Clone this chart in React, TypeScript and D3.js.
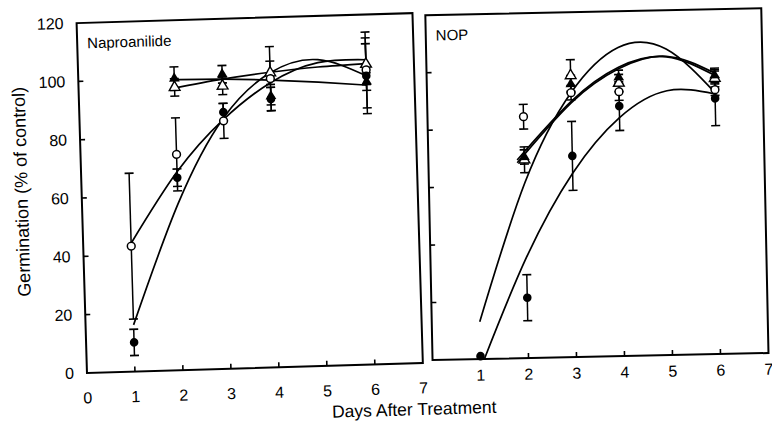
import React from 'react';
import * as d3 from 'd3';

const W = 772, H = 423;
const FONT = '"Liberation Sans", Arial, Helvetica, sans-serif';

const xTickDays = [1, 2, 3, 4, 5, 6];
const yTickVals = [20, 40, 60, 80, 100];
const leftXLabels = [0, 1, 2, 3, 4, 5, 6, 7];
const rightXLabels = [1, 2, 3, 4, 5, 6, 7];
const yLabels = [0, 20, 40, 60, 80, 100, 120];

// ---- Naproanilide (left panel) ----
const napCircleDays = [1, 2, 3, 4, 6];
const napFilledCircle = [10, 66, 88, 92, 99];
const napFilledCircleErr = [4.5, 3, 3, 4, 13];
const napOpenCircle = [43, 74, 85, 99, 101];
const napOpenCircleErr = [25, 12.5, 6, 11, 13];
const napTriDays = [2, 3, 4, 6];
const napFilledTri = [100, 101, 93, 97];
const napFilledTriErr = [4, 3, 3, 3];
const napOpenTri = [97, 97, 101, 103];
const napOpenTriErr = [3, 3, 4, 7];

const napFitDays = [1, 2, 3, 4, 5, 6];
const napFilledCircleFit = [16, 57, 86, 101, 105, 99];
const napOpenCircleFit = [44, 68, 85.5, 97.6, 104, 104.5];
const napTriFitDays = [1.95, 3, 4, 5, 6];
const napFilledTriFit = [99.6, 99.3, 98.5, 97.3, 95.8];
const napOpenTriFit = [96.6, 99.3, 101.2, 102.5, 103.2];

// ---- NOP (right panel) ----
const nopFilledCircleDays = [1, 2, 3, 4, 6];
const nopFilledCircle = [1, 21, 70, 87, 89];
const nopFilledCircleErr = [0, 8, 12, 8.5, 9.5];
const nopDays = [2, 3, 4, 6];
const nopOpenCircle = [84, 92, 92, 92];
const nopOpenCircleErr = [4.3, 2.5, 3, 2];
const nopFilledTri = [70, 95, 97, 97];
const nopFilledTriErr = [2.5, 3, 2.5, 2.5];
const nopOpenTri = [69, 98, 95, 96];
const nopOpenTriErr = [4.5, 5.5, 3, 3];

const nopFilledCircleFitDays = [1.08, 2, 3, 4, 5, 6];
const nopFilledCircleFit = [0, 35, 64, 83, 92, 90.5];
const nopOpenCircleFitDays = [1, 2, 3, 4, 5, 6];
const nopOpenCircleFit = [13, 61, 92, 107.4, 106.5, 91];
const nopTriFitDays = [1.85, 3, 4, 5, 6];
const nopFilledTriFit = [69, 89, 100.5, 103.8, 97];
const nopOpenTriFit = [68, 88.5, 100, 104, 97.8];

type Series = { days: number[]; vals: number[]; errs: number[]; kind: 'fc' | 'oc' | 'ft' | 'ot' };
type Fit = { days: number[]; vals: number[] };

const triPath = d3.symbol(d3.symbolTriangle, 50)() as string;

function Panel({ x, y, label, series, fits, xLabels, xLabelY, yTickLabels }: {
  x: d3.ScaleLinear<number, number>; y: d3.ScaleLinear<number, number>; label: string;
  series: Series[]; fits: Fit[]; xLabels: number[]; xLabelY: number; yTickLabels: boolean;
}) {
  const [x0, x1] = x.range();
  const [y0, y1] = y.range();
  const line = d3.line<[number, number]>().x(d => x(d[0])).y(d => y(d[1])).curve(d3.curveNatural);
  const order: Series['kind'][] = ['ot', 'oc', 'fc', 'ft'];
  return (
    <g>
      <rect x={x0} y={y1} width={x1 - x0} height={y0 - y1} fill="none" stroke="#000" strokeWidth={2} />
      {yTickVals.map(v => (
        <line key={'yt' + v} x1={x0} x2={x0 + 5} y1={y(v)} y2={y(v)} stroke="#000" strokeWidth={1.6} />
      ))}
      {xTickDays.map(d => (
        <line key={'xt' + d} x1={x(d)} x2={x(d)} y1={y0} y2={y0 - 5} stroke="#000" strokeWidth={1.6} />
      ))}
      {yTickLabels && yLabels.map(v => (
        <text key={'yl' + v} x={x0 - 13} y={y(v)} textAnchor="end" dominantBaseline="central"
          fontSize={16} fontFamily={FONT}>{v}</text>
      ))}
      {xLabels.map(d => (
        <text key={'xl' + d} x={x(d)} y={xLabelY} textAnchor="middle" dominantBaseline="central"
          fontSize={16} fontFamily={FONT}>{d}</text>
      ))}
      <text x={x0 + 10} y={y1 + 20} dominantBaseline="central" fontSize={15} fontFamily={FONT}>{label}</text>
      {fits.map((f, i) => (
        <path key={'f' + i} d={line(f.days.map((d, j) => [d, f.vals[j]] as [number, number])) || ''}
          fill="none" stroke="#000" strokeWidth={1.7} />
      ))}
      {series.map((s, i) => (
        <g key={'e' + i}>
          {s.days.map((d, j) => s.errs[j] > 0 ? (
            <g key={j}>
              <line x1={x(d)} x2={x(d)} y1={y(s.vals[j] - s.errs[j])} y2={y(s.vals[j] + s.errs[j])} stroke="#000" strokeWidth={1.5} />
              <line x1={x(d) - 4.5} x2={x(d) + 4.5} y1={y(s.vals[j] - s.errs[j])} y2={y(s.vals[j] - s.errs[j])} stroke="#000" strokeWidth={1.6} />
              <line x1={x(d) - 4.5} x2={x(d) + 4.5} y1={y(s.vals[j] + s.errs[j])} y2={y(s.vals[j] + s.errs[j])} stroke="#000" strokeWidth={1.6} />
            </g>
          ) : null)}
        </g>
      ))}
      {order.map(k => series.filter(s => s.kind === k).map((s, i) => (
        <g key={'m' + k + i}>
          {s.days.map((d, j) => {
            const cx = x(d), cy = y(s.vals[j]);
            if (k === 'fc') return <circle key={j} cx={cx} cy={cy} r={4.3} fill="#000" />;
            if (k === 'oc') return <circle key={j} cx={cx} cy={cy} r={3.9} fill="#fff" stroke="#000" strokeWidth={1.5} />;
            if (k === 'ft') return <path key={j} d={triPath} transform={`translate(${cx},${cy})`} fill="#000" />;
            return <path key={j} d={triPath} transform={`translate(${cx},${cy})`} fill="#fff" stroke="#000" strokeWidth={1.4} />;
          })}
        </g>
      )))}
    </g>
  );
}

export default function App() {
  const xL = d3.scaleLinear().domain([0, 7]).range([82, 418]);
  const yL = d3.scaleLinear().domain([0, 120]).range([363, 13]);
  const xR = d3.scaleLinear().domain([0, 7]).range([429.3, 765.3]);
  const yR = d3.scaleLinear().domain([0, 120]).range([361.8, 17]);

  const napSeries: Series[] = [
    { days: napTriDays, vals: napOpenTri, errs: napOpenTriErr, kind: 'ot' },
    { days: napCircleDays, vals: napOpenCircle, errs: napOpenCircleErr, kind: 'oc' },
    { days: napCircleDays, vals: napFilledCircle, errs: napFilledCircleErr, kind: 'fc' },
    { days: napTriDays, vals: napFilledTri, errs: napFilledTriErr, kind: 'ft' },
  ];
  const napFits: Fit[] = [
    { days: napFitDays, vals: napFilledCircleFit },
    { days: napFitDays, vals: napOpenCircleFit },
    { days: napTriFitDays, vals: napFilledTriFit },
    { days: napTriFitDays, vals: napOpenTriFit },
  ];
  const nopSeries: Series[] = [
    { days: nopDays, vals: nopOpenTri, errs: nopOpenTriErr, kind: 'ot' },
    { days: nopDays, vals: nopOpenCircle, errs: nopOpenCircleErr, kind: 'oc' },
    { days: nopFilledCircleDays, vals: nopFilledCircle, errs: nopFilledCircleErr, kind: 'fc' },
    { days: nopDays, vals: nopFilledTri, errs: nopFilledTriErr, kind: 'ft' },
  ];
  const nopFits: Fit[] = [
    { days: nopFilledCircleFitDays, vals: nopFilledCircleFit },
    { days: nopOpenCircleFitDays, vals: nopOpenCircleFit },
    { days: nopTriFitDays, vals: nopFilledTriFit },
    { days: nopTriFitDays, vals: nopOpenTriFit },
  ];

  return (
    <svg width={W} height={H} viewBox={`0 0 ${W} ${H}`}
      style={{ position: 'absolute', left: 0, top: 0, background: '#fff' }}>
      <rect width={W} height={H} fill="#fff" />
      <g transform="rotate(-1.7 420 200)">
        <Panel x={xL} y={yL} label="Naproanilide" series={napSeries} fits={napFits}
          xLabels={leftXLabels} xLabelY={388} yTickLabels={true} />
        <g transform="rotate(0.5 597 189)">
          <Panel x={xR} y={yR} label="NOP" series={nopSeries} fits={nopFits}
            xLabels={rightXLabels} xLabelY={378} yTickLabels={false} />
        </g>
        <text transform="translate(22,180) rotate(-90)" textAnchor="middle" dominantBaseline="central"
          fontSize={18} fontFamily={FONT}>Germination (% of control)</text>
        <text x={408} y={409} textAnchor="middle" dominantBaseline="central"
          fontSize={17.5} fontFamily={FONT}>Days After Treatment</text>
      </g>
    </svg>
  );
}
